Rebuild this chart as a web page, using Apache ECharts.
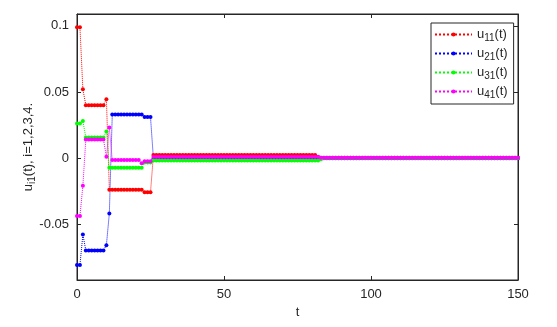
<!DOCTYPE html>
<html>
<head>
<meta charset="utf-8">
<script src="https://cdn.jsdelivr.net/npm/echarts@6/dist/echarts.min.js"></script>
<style>
  html, body { margin: 0; padding: 0; background: #fff; }
  #main { width: 557px; height: 327px; }
</style>
</head>
<body>
<div id="main"></div>
<script>
// series values, one per time step t = 0..150
var u11 = [
  0.099, 0.099, 0.052, 0.040, 0.040, 0.040, 0.040, 0.040, 0.040, 0.040,
  0.0445, -0.024, -0.024, -0.024, -0.024, -0.024, -0.024, -0.024, -0.024, -0.024,
  -0.024, -0.024, -0.024, -0.026, -0.026, -0.026, 0.0023, 0.0023, 0.0023, 0.0023,
  0.0023, 0.0023, 0.0023, 0.0023, 0.0023, 0.0023, 0.0023, 0.0023, 0.0023, 0.0023,
  0.0023, 0.0023, 0.0023, 0.0023, 0.0023, 0.0023, 0.0023, 0.0023, 0.0023, 0.0023,
  0.0023, 0.0023, 0.0023, 0.0023, 0.0023, 0.0023, 0.0023, 0.0023, 0.0023, 0.0023,
  0.0023, 0.0023, 0.0023, 0.0023, 0.0023, 0.0023, 0.0023, 0.0023, 0.0023, 0.0023,
  0.0023, 0.0023, 0.0023, 0.0023, 0.0023, 0.0023, 0.0023, 0.0023, 0.0023, 0.0023,
  0.0023, 0.0022, 0.001, 0.0002, 0.0002, 0.0002, 0.0002, 0.0002, 0.0002, 0.0002,
  0.0002, 0.0002, 0.0002, 0.0002, 0.0002, 0.0002, 0.0002, 0.0002, 0.0002, 0.0002,
  0.0002, 0.0002, 0.0002, 0.0002, 0.0002, 0.0002, 0.0002, 0.0002, 0.0002, 0.0002,
  0.0002, 0.0002, 0.0002, 0.0002, 0.0002, 0.0002, 0.0002, 0.0002, 0.0002, 0.0002,
  0.0002, 0.0002, 0.0002, 0.0002, 0.0002, 0.0002, 0.0002, 0.0002, 0.0002, 0.0002,
  0.0002, 0.0002, 0.0002, 0.0002, 0.0002, 0.0002, 0.0002, 0.0002, 0.0002, 0.0002,
  0.0002, 0.0002, 0.0002, 0.0002, 0.0002, 0.0002, 0.0002, 0.0002, 0.0002, 0.0002,
  0.0002
];
var u21 = [
  -0.081, -0.081, -0.058, -0.070, -0.070, -0.070, -0.070, -0.070, -0.070, -0.070,
  -0.066, -0.042, 0.033, 0.033, 0.033, 0.033, 0.033, 0.033, 0.033, 0.033,
  0.033, 0.033, 0.033, 0.031, 0.031, 0.031, -0.0008, -0.0008, -0.0008, -0.0008,
  -0.0008, -0.0008, -0.0008, -0.0008, -0.0008, -0.0008, -0.0008, -0.0008, -0.0008, -0.0008,
  -0.0008, -0.0008, -0.0008, -0.0008, -0.0008, -0.0008, -0.0008, -0.0008, -0.0008, -0.0008,
  -0.0008, -0.0008, -0.0008, -0.0008, -0.0008, -0.0008, -0.0008, -0.0008, -0.0008, -0.0008,
  -0.0008, -0.0008, -0.0008, -0.0008, -0.0008, -0.0008, -0.0008, -0.0008, -0.0008, -0.0008,
  -0.0008, -0.0008, -0.0008, -0.0008, -0.0008, -0.0008, -0.0008, -0.0008, -0.0008, -0.0008,
  -0.0008, -0.0008, -0.0008, -0.0003, -0.0003, -0.0003, -0.0003, -0.0003, -0.0003, -0.0003,
  -0.0003, -0.0003, -0.0003, -0.0003, -0.0003, -0.0003, -0.0003, -0.0003, -0.0003, -0.0003,
  -0.0003, -0.0003, -0.0003, -0.0003, -0.0003, -0.0003, -0.0003, -0.0003, -0.0003, -0.0003,
  -0.0003, -0.0003, -0.0003, -0.0003, -0.0003, -0.0003, -0.0003, -0.0003, -0.0003, -0.0003,
  -0.0003, -0.0003, -0.0003, -0.0003, -0.0003, -0.0003, -0.0003, -0.0003, -0.0003, -0.0003,
  -0.0003, -0.0003, -0.0003, -0.0003, -0.0003, -0.0003, -0.0003, -0.0003, -0.0003, -0.0003,
  -0.0003, -0.0003, -0.0003, -0.0003, -0.0003, -0.0003, -0.0003, -0.0003, -0.0003, -0.0003,
  -0.0003
];
var u31 = [
  0.026, 0.026, 0.028, 0.0155, 0.0155, 0.0155, 0.0155, 0.0155, 0.0155, 0.0155,
  0.020, -0.0075, -0.0075, -0.0075, -0.0075, -0.0075, -0.0075, -0.0075, -0.0075, -0.0075,
  -0.0075, -0.0075, -0.0075, -0.0035, -0.0035, -0.0035, -0.002, -0.002, -0.002, -0.002,
  -0.002, -0.002, -0.002, -0.002, -0.002, -0.002, -0.002, -0.002, -0.002, -0.002,
  -0.002, -0.002, -0.002, -0.002, -0.002, -0.002, -0.002, -0.002, -0.002, -0.002,
  -0.002, -0.002, -0.002, -0.002, -0.002, -0.002, -0.002, -0.002, -0.002, -0.002,
  -0.002, -0.002, -0.002, -0.002, -0.002, -0.002, -0.002, -0.002, -0.002, -0.002,
  -0.002, -0.002, -0.002, -0.002, -0.002, -0.002, -0.002, -0.002, -0.002, -0.002,
  -0.002, -0.002, -0.002, -0.001, 0, 0, 0, 0, 0, 0,
  0, 0, 0, 0, 0, 0, 0, 0, 0, 0,
  0, 0, 0, 0, 0, 0, 0, 0, 0, 0,
  0, 0, 0, 0, 0, 0, 0, 0, 0, 0,
  0, 0, 0, 0, 0, 0, 0, 0, 0, 0,
  0, 0, 0, 0, 0, 0, 0, 0, 0, 0,
  0, 0, 0, 0, 0, 0, 0, 0, 0, 0,
  0
];
var u41 = [
  -0.044, -0.044, -0.021, 0.014, 0.014, 0.014, 0.014, 0.014, 0.014, 0.014,
  0.001, 0.023, -0.0015, -0.0015, -0.0015, -0.0015, -0.0015, -0.0015, -0.0015, -0.0015,
  -0.0015, -0.0015, -0.004, -0.0025, -0.0025, -0.0025, 0.0008, 0.0008, 0.0008, 0.0008,
  0.0008, 0.0008, 0.0008, 0.0008, 0.0008, 0.0008, 0.0008, 0.0008, 0.0008, 0.0008,
  0.0008, 0.0008, 0.0008, 0.0008, 0.0008, 0.0008, 0.0008, 0.0008, 0.0008, 0.0008,
  0.0008, 0.0008, 0.0008, 0.0008, 0.0008, 0.0008, 0.0008, 0.0008, 0.0008, 0.0008,
  0.0008, 0.0008, 0.0008, 0.0008, 0.0008, 0.0008, 0.0008, 0.0008, 0.0008, 0.0008,
  0.0008, 0.0008, 0.0008, 0.0008, 0.0008, 0.0008, 0.0008, 0.0008, 0.0008, 0.0008,
  0.0008, 0.0008, 0.0008, 0.0002, 0.0002, 0.0002, 0.0002, 0.0002, 0.0002, 0.0002,
  0.0002, 0.0002, 0.0002, 0.0002, 0.0002, 0.0002, 0.0002, 0.0002, 0.0002, 0.0002,
  0.0002, 0.0002, 0.0002, 0.0002, 0.0002, 0.0002, 0.0002, 0.0002, 0.0002, 0.0002,
  0.0002, 0.0002, 0.0002, 0.0002, 0.0002, 0.0002, 0.0002, 0.0002, 0.0002, 0.0002,
  0.0002, 0.0002, 0.0002, 0.0002, 0.0002, 0.0002, 0.0002, 0.0002, 0.0002, 0.0002,
  0.0002, 0.0002, 0.0002, 0.0002, 0.0002, 0.0002, 0.0002, 0.0002, 0.0002, 0.0002,
  0.0002, 0.0002, 0.0002, 0.0002, 0.0002, 0.0002, 0.0002, 0.0002, 0.0002, 0.0002,
  0.0002
];

var seriesNames = ['11', '21', '31', '41'];
var seriesColors = ['#ff0000', '#0000ff', '#00ff00', '#ff00ff'];
var yTicks = [-0.05, 0, 0.05, 0.1];
var xTicks = [0, 50, 100, 150];

var fontName = 'Liberation Sans';
var txtColor = '#262626';

var chart = echarts.init(document.getElementById('main'), null, { renderer: 'canvas' });

function toPoints(arr) {
  return arr.map(function (v, i) { return [i, v]; });
}

var allValues = [u11, u21, u31, u41];
var series = [];
for (var k = 0; k < allValues.length; k++) {
  series.push({
    name: seriesNames[k],
    type: 'line',
    data: toPoints(allValues[k]),
    symbol: 'circle',
    symbolSize: 4,
    showAllSymbol: true,
    color: seriesColors[k],
    lineStyle: { width: 1, type: 'dotted', color: seriesColors[k] },
    itemStyle: { color: seriesColors[k] },
    emphasis: { disabled: true },
    animation: false
  });
}

var subRich = {
  n: { fontFamily: fontName, fontSize: 13, color: txtColor },
  s: { fontFamily: fontName, fontSize: 10, color: txtColor, padding: [7, 0, 0, 0] }
};

var option = {
  backgroundColor: '#ffffff',
  animation: false,
  grid: {
    left: 77, right: 39, top: 14, bottom: 47,
    show: true, borderColor: txtColor, borderWidth: 1, backgroundColor: '#fff'
  },
  legend: {
    orient: 'vertical',
    left: 431, top: 23,
    width: 78,
    padding: [5, 6, 4, 3],
    itemGap: 4,
    itemWidth: 37,
    itemHeight: 5,
    backgroundColor: '#fff',
    borderColor: txtColor,
    borderWidth: 1,
    data: seriesNames,
    formatter: function (name) { return '{n|u}{s|' + name + '}{n|(t)}'; },
    textStyle: { rich: subRich, padding: [0, 0, 0, 0] }
  },
  xAxis: [{
    type: 'value', min: 0, max: 150, interval: 50,
    name: 't', nameLocation: 'middle', nameGap: 24,
    nameTextStyle: { fontFamily: fontName, fontSize: 13, color: txtColor },
    axisLine: { onZero: false, lineStyle: { color: txtColor } },
    axisTick: { inside: true, length: 4, lineStyle: { color: txtColor } },
    axisLabel: { fontFamily: fontName, fontSize: 13, color: txtColor, margin: 8 },
    splitLine: { show: false }
  }, {
    type: 'value', position: 'top', min: 0, max: 150, interval: 50,
    axisLine: { show: true, onZero: false, lineStyle: { color: txtColor } },
    axisTick: { show: true, inside: true, length: 4, lineStyle: { color: txtColor } },
    axisLabel: { show: false },
    splitLine: { show: false }
  }],
  yAxis: [{
    type: 'value', min: -0.0924, max: 0.109,
    name: '{n|u}{s|i1}{n|(t), i=1,2,3,4.}', nameLocation: 'middle', nameGap: 40,
    nameMoveOverlap: false,
    nameTextStyle: { rich: subRich },
    axisLine: { show: true, onZero: false, lineStyle: { color: txtColor } },
    axisTick: { show: true, inside: true, length: 4, customValues: yTicks, lineStyle: { color: txtColor } },
    axisLabel: { fontFamily: fontName, fontSize: 13, color: txtColor, margin: 8, customValues: yTicks },
    splitLine: { show: false }
  }, {
    type: 'value', position: 'right', min: -0.0924, max: 0.109,
    axisLine: { show: true, onZero: false, lineStyle: { color: txtColor } },
    axisTick: { show: true, inside: true, length: 4, customValues: yTicks, lineStyle: { color: txtColor } },
    axisLabel: { show: false, customValues: yTicks },
    splitLine: { show: false }
  }],
  series: series
};

chart.setOption(option);
</script>
</body>
</html>
